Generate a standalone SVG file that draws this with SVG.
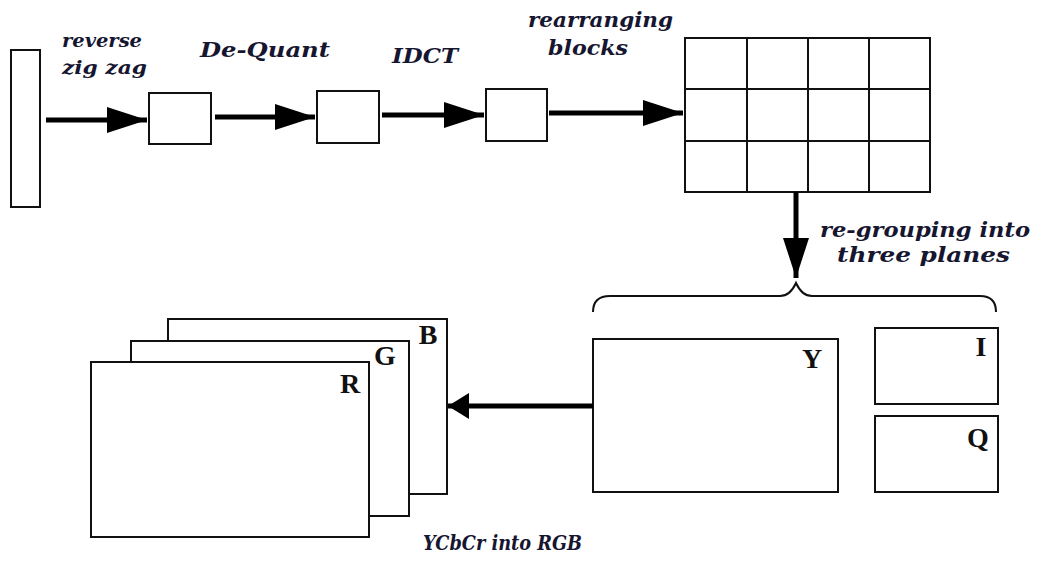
<svg xmlns="http://www.w3.org/2000/svg" width="1039" height="563" viewBox="0 0 1039 563">
<style>
.box{fill:#fff;stroke:#111;stroke-width:2}
.lbl{font-family:"DejaVu Serif","Liberation Serif",serif;font-style:italic;font-weight:bold;fill:#161630;font-size:21px}
.sm{font-size:19px}
.ch{font-family:"Liberation Serif","DejaVu Serif",serif;font-weight:bold;fill:#111;font-size:28px;text-anchor:middle}
.conn{stroke:#000;stroke-width:5;fill:none}
</style>
<defs>
<marker id="ah" markerUnits="userSpaceOnUse" markerWidth="42" markerHeight="28" refX="40" refY="14" orient="auto" viewBox="0 0 42 28">
<path d="M0,1 L40,14 L0,27 z" fill="#000"/>
</marker>
<marker id="ahs" markerUnits="userSpaceOnUse" markerWidth="22" markerHeight="26" refX="21" refY="13" orient="auto" viewBox="0 0 22 26">
<path d="M0,0 L21,13 L0,26 z" fill="#000"/>
</marker>
</defs>
<rect width="1039" height="563" fill="#fff"/>
<g id="input"><rect class="box" x="11" y="50" width="29" height="157"/></g>
<g id="block1"><rect class="box" x="149" y="93" width="62" height="51"/></g>
<g id="block2"><rect class="box" x="317" y="91" width="62" height="52"/></g>
<g id="block3"><rect class="box" x="486" y="89" width="61" height="52"/></g>
<g id="grid">
<rect class="box" x="685" y="38" width="245" height="154"/>
<path d="M747,38V192M808,38V192M869,38V192M685,89H930M685,141H930" stroke="#111" stroke-width="2" fill="none"/>
</g>
<g id="plane-Y"><rect class="box" x="593" y="339" width="245" height="153"/><text class="ch" x="812" y="368">Y</text></g>
<g id="plane-I"><rect class="box" x="875" y="328" width="123" height="76"/><text class="ch" x="981" y="356">I</text></g>
<g id="plane-Q"><rect class="box" x="875" y="416" width="123" height="76"/><text class="ch" x="978" y="447">Q</text></g>
<g id="rgb">
<rect class="box" x="168" y="319" width="279" height="175"/><text class="ch" x="428" y="344">B</text>
<rect class="box" x="131" y="341" width="278" height="175"/><text class="ch" x="385" y="365">G</text>
<rect class="box" x="91" y="362" width="278" height="175"/><text class="ch" x="350" y="393">R</text>
</g>
<g id="connectors">
<line class="conn" x1="46" y1="120" x2="147" y2="120" marker-end="url(#ah)"/>
<line class="conn" x1="215" y1="117" x2="315" y2="117" marker-end="url(#ah)"/>
<line class="conn" x1="382" y1="115" x2="484" y2="115" marker-end="url(#ah)"/>
<line class="conn" x1="549" y1="113" x2="683" y2="113" marker-end="url(#ah)"/>
<line class="conn" x1="796" y1="192" x2="796" y2="278" marker-end="url(#ah)"/>
<line class="conn" x1="593" y1="406" x2="448" y2="406" stroke-width="4" marker-end="url(#ahs)"/>
<path d="M593,312 Q593,296 610,296 L780,296 Q790,296 796,283 Q802,296 812,296 L980,296 Q996,296 996,312" fill="none" stroke="#111" stroke-width="2"/>
</g>
<g id="labels">
<text class="lbl sm" x="62" y="47" textLength="80" lengthAdjust="spacingAndGlyphs">reverse</text>
<text class="lbl sm" x="62" y="74" textLength="85" lengthAdjust="spacingAndGlyphs">zig zag</text>
<text class="lbl" x="200" y="57" textLength="130" lengthAdjust="spacingAndGlyphs">De-Quant</text>
<text class="lbl" x="392" y="63" textLength="66" lengthAdjust="spacingAndGlyphs">IDCT</text>
<text class="lbl" x="528" y="27" textLength="145" lengthAdjust="spacingAndGlyphs">rearranging</text>
<text class="lbl" x="548" y="55" textLength="80" lengthAdjust="spacingAndGlyphs">blocks</text>
<text class="lbl" x="820" y="237" textLength="210" lengthAdjust="spacingAndGlyphs">re-grouping into</text>
<text class="lbl" x="837" y="262" textLength="173" lengthAdjust="spacingAndGlyphs">three planes</text>
<text class="lbl" x="423" y="550" textLength="159" lengthAdjust="spacingAndGlyphs">YCbCr into RGB</text>
</g>
</svg>
